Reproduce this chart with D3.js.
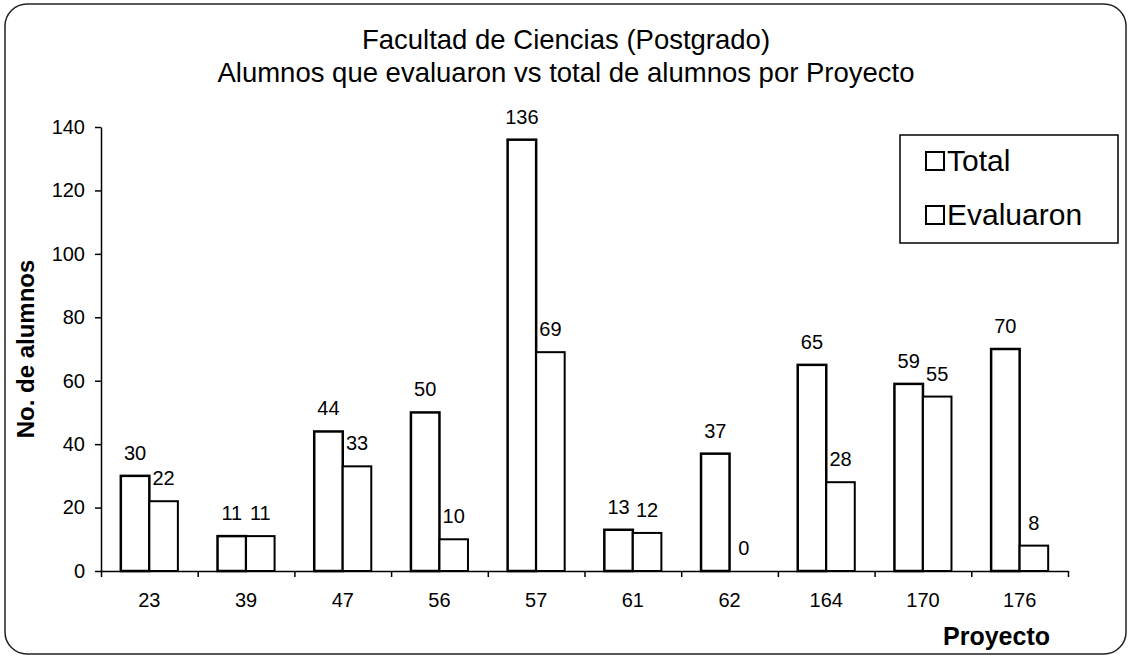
<!DOCTYPE html>
<html lang="es">
<head>
  <meta charset="UTF-8">
  <title>Facultad de Ciencias (Postgrado)</title>
  <script src="https://cdn.jsdelivr.net/npm/d3@7.8.5/dist/d3.min.js"></script>
  <style>
    body { margin: 0; background: #fff; font-family: "Liberation Sans", Arial, sans-serif; }
    svg text { fill: #000; }
  </style>
</head>
<body>
  <svg id="chart"></svg>
  <script>
    // Datos del grafico
    const proyectos = ["23", "39", "47", "56", "57", "61", "62", "164", "170", "176"];
    const series = ["Total", "Evaluaron"];
    const total = [30, 11, 44, 50, 136, 13, 37, 65, 59, 70];
    const evaluaron = [22, 11, 33, 10, 69, 12, 0, 28, 55, 8];
    const yTicks = [0, 20, 40, 60, 80, 100, 120, 140];

    const width = 1131, height = 658;
    const svg = d3.select("#chart").attr("width", width).attr("height", height);

    // marco redondeado
    svg.append("rect")
      .attr("x", 5).attr("y", 4)
      .attr("width", 1121).attr("height", 650)
      .attr("rx", 22)
      .attr("fill", "none")
      .attr("stroke", "#222")
      .attr("stroke-width", 1.5);

    const x = d3.scaleBand()
      .domain(proyectos)
      .range([101, 1068])
      .paddingInner(0.41)
      .paddingOuter(0.205);
    const xs = d3.scaleBand().domain(series).range([0, x.bandwidth()]);
    const y = d3.scaleLinear().domain([0, 140]).range([571, 127]);

    const rows = proyectos.map((p, i) => ({ p, vals: [total[i], evaluaron[i]] }));

    // barras
    const g = svg.append("g")
      .selectAll("g")
      .data(rows)
      .enter()
      .append("g")
      .attr("transform", d => `translate(${x(d.p)},0)`);

    g.selectAll("rect")
      .data(d => d.vals.map((v, k) => ({ s: series[k], v })))
      .enter()
      .append("rect")
      .attr("x", d => xs(d.s))
      .attr("y", d => y(d.v))
      .attr("width", xs.bandwidth())
      .attr("height", d => y(0) - y(d.v))
      .attr("fill", "#fff")
      .attr("stroke", "#000")
      .attr("stroke-width", d => d.s === "Total" ? 2.5 : 2);

    g.selectAll("text")
      .data(d => d.vals.map((v, k) => ({ s: series[k], v })))
      .enter()
      .append("text")
      .attr("x", d => xs(d.s) + xs.bandwidth() / 2)
      .attr("y", d => y(d.v) - 16)
      .attr("text-anchor", "middle")
      .attr("font-size", 20)
      .text(d => d.v);

    // eje Y
    const yAxis = svg.append("g")
      .attr("transform", "translate(101,0)")
      .call(d3.axisLeft(y).tickValues(yTicks).tickSize(6).tickPadding(10).tickSizeOuter(0));
    yAxis.selectAll("text").attr("font-size", 20).attr("font-family", "Liberation Sans, Arial, sans-serif");
    yAxis.selectAll("line, path").attr("stroke", "#000").attr("stroke-width", 1.5);

    // eje X: etiquetas en el centro, marcas entre categorias
    const xAxis = svg.append("g")
      .attr("transform", `translate(0,${y(0)})`)
      .call(d3.axisBottom(x).tickSize(0).tickPadding(22));
    xAxis.selectAll("text").attr("font-size", 20).attr("font-family", "Liberation Sans, Arial, sans-serif");
    xAxis.select("path").attr("stroke", "#000").attr("stroke-width", 1.5);

    const xb = d3.scaleLinear().domain([0, proyectos.length]).range(x.range());
    const xTickAxis = svg.append("g")
      .attr("transform", `translate(0,${y(0)})`)
      .call(d3.axisBottom(xb).tickValues(d3.range(proyectos.length + 1)).tickSize(6).tickFormat(""));
    xTickAxis.select("path").remove();
    xTickAxis.selectAll("line").attr("stroke", "#000").attr("stroke-width", 1.5);

    // titulos
    svg.append("text")
      .attr("x", 566).attr("y", 49)
      .attr("text-anchor", "middle")
      .attr("font-size", 27.5)
      .text("Facultad de Ciencias (Postgrado)");
    svg.append("text")
      .attr("x", 566).attr("y", 82)
      .attr("text-anchor", "middle")
      .attr("font-size", 27.5)
      .text("Alumnos que evaluaron vs total de alumnos por Proyecto");

    svg.append("text")
      .attr("transform", "translate(34,349) rotate(-90)")
      .attr("text-anchor", "middle")
      .attr("font-size", 24)
      .attr("font-weight", "bold")
      .text("No. de alumnos");

    svg.append("text")
      .attr("x", 1050).attr("y", 645)
      .attr("text-anchor", "end")
      .attr("font-size", 25)
      .attr("font-weight", "bold")
      .text("Proyecto");

    // leyenda
    const legend = svg.append("g");
    legend.append("rect")
      .attr("x", 900).attr("y", 135)
      .attr("width", 218).attr("height", 108)
      .attr("fill", "#fff")
      .attr("stroke", "#000")
      .attr("stroke-width", 1.5);
    const li = legend.selectAll("g.item")
      .data(series)
      .enter()
      .append("g")
      .attr("class", "item")
      .attr("transform", (d, i) => `translate(926,${161 + i * 54})`);
    li.append("rect")
      .attr("x", 0).attr("y", -9)
      .attr("width", 18).attr("height", 18)
      .attr("fill", "#fff")
      .attr("stroke", "#000")
      .attr("stroke-width", 2);
    li.append("text")
      .attr("x", 21).attr("y", 10)
      .attr("font-size", 30)
      .text(d => d);
  </script>
</body>
</html>
